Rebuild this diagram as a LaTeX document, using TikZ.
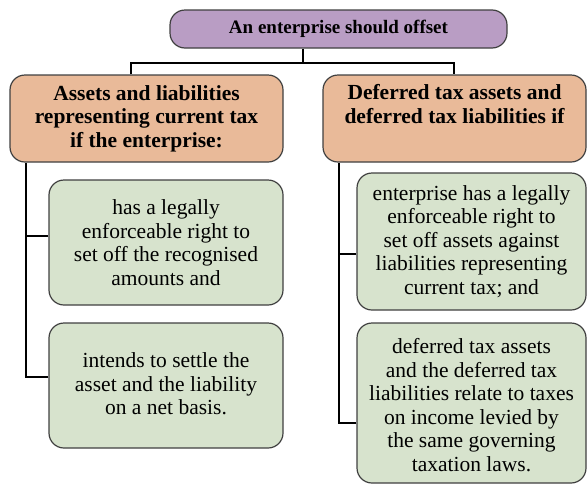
\documentclass[tikz,border=0pt]{standalone}
\usepackage{fontspec}
\setmainfont{Liberation Serif}
\definecolor{headpurple}{RGB}{185,157,196}
\definecolor{headorange}{RGB}{233,186,153}
\definecolor{leafgreen}{RGB}{215,227,205}
\definecolor{boxline}{RGB}{64,64,64}
\tikzset{
  box/.style={draw=boxline, line width=1.2pt, rounded corners=15pt, align=center, inner sep=0pt},
  headbox/.style={box, fill=headorange, font=\fontsize{21.5}{23.5}\selectfont\bfseries},
  leafbox/.style={box, fill=leafgreen, font=\fontsize{21.5}{23.5}\selectfont},
  link/.style={line width=1.3pt, black}
}
\begin{document}
\begin{tikzpicture}[x=1pt, y=-1pt]
  \useasboundingbox (0,0) rectangle (588,485);
  % top box
  \node[box, fill=headpurple, font=\fontsize{19}{22}\selectfont\bfseries,
    minimum width=337, minimum height=38] (top) at (338.5,29) {An enterprise should offset};
  % two heads
  \node[headbox, minimum width=273, minimum height=87] (lefthead) at (146.5,118.5)
    {Assets and liabilities\\representing current tax\\if the enterprise:};
  \node[headbox, minimum width=263, minimum height=87] (righthead) at (454.5,118.5)
    {Deferred tax assets and\\deferred tax liabilities if\\[6pt]};
  % leaves
  \node[leafbox, minimum width=234, minimum height=125] (la) at (166,242.5)
    {has a legally\\enforceable right to\\set off the recognised\\amounts and};
  \node[leafbox, minimum width=234, minimum height=125] (lb) at (166,385.5)
    {\\[-12pt]intends to settle the\\asset and the liability\\on a net basis.};
  \node[leafbox, minimum width=229, minimum height=137] (ra) at (471.5,241.5)
    {enterprise has a legally\\enforceable right to\\set off assets against\\liabilities representing\\current tax; and};
  \node[leafbox, minimum width=229, minimum height=160] (rb) at (471.5,403)
    {\\[-4pt]deferred tax assets\\and the deferred tax\\liabilities relate to taxes\\on income levied by\\the same governing\\taxation laws.};
  % connectors
  \coordinate (j) at (303,63);
  \coordinate (jl) at (131,63);
  \coordinate (jr) at (454,63);
  \coordinate (ls) at (26,0);
  \coordinate (rs) at (339,0);
  \draw[link] (top.south -| j) -- (j);
  \draw[link] (lefthead.north -| jl) -- (jl) -- (jr) -- (righthead.north -| jr);
  \draw[link] ([yshift=6.5pt]la.west) -| (lefthead.south -| ls);
  \draw[link] ([yshift=8.5pt]lb.west) -| (lefthead.south -| ls);
  \draw[link] ([yshift=-12.5pt]ra.west) -| (righthead.south -| rs);
  \draw[link] ([yshift=-20pt]rb.west) -| (righthead.south -| rs);
\end{tikzpicture}
\end{document}
